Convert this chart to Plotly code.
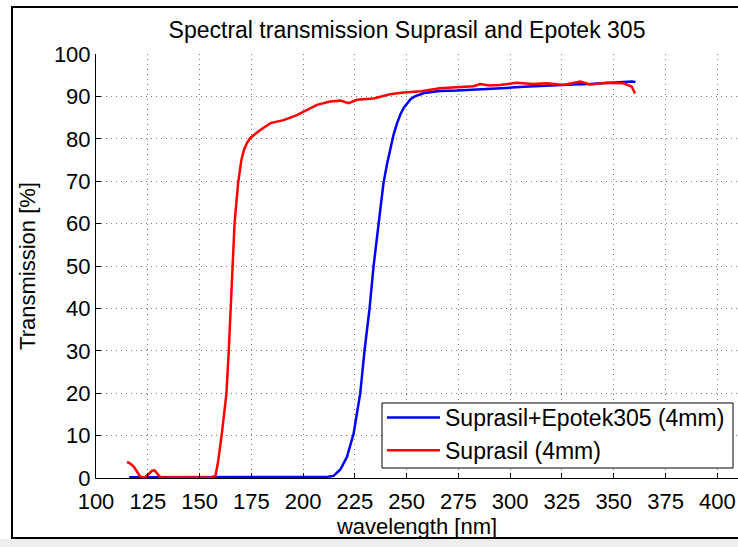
import plotly.graph_objects as go

# Suprasil + Epotek 305 (4 mm): wavelength [nm] and transmission [%]
epotek_nm = [116, 130, 150, 170, 190, 205, 212, 214.7, 218, 221.2, 224.4, 227.6, 229.7,
             232.1, 234, 236.4, 238.8, 240.5, 242, 243.7, 245.3, 247, 248.7, 250.3,
             252, 254, 256, 258.5, 261.4, 266, 274.3, 282, 290.4, 298, 306.5, 314,
             322.5, 330, 338.6, 346.7, 352, 358.7, 360.5]
epotek_T = [0.2, 0.2, 0.2, 0.2, 0.2, 0.2, 0.3, 0.5, 2.0, 5.0, 10.5, 20.0, 30.2,
            40.0, 49.8, 59.7, 69.5, 74.0, 77.6, 81.0, 83.6, 85.8, 87.4, 88.5,
            89.4, 90.0, 90.4, 90.8, 91.0, 91.3, 91.4, 91.6, 91.7, 92.0, 92.3, 92.5,
            92.7, 92.8, 92.9, 93.2, 93.4, 93.5, 93.4]

# Suprasil (4 mm): wavelength [nm] and transmission [%]
suprasil_nm = [115, 116.5, 118.2, 120, 121.4, 123.8, 125.5, 127.1, 128.3, 129.5, 131,
               135, 145, 155, 157.7, 159, 160.8, 163, 164.1, 165.8, 166.9, 168.6,
               170.2, 171.5, 172.9, 174.5, 178.5, 184.2, 190.6, 197, 200.2, 206.7, 213,
               218, 222, 226, 234, 242, 248.5, 257, 266, 274, 282.3, 285.5, 290,
               295, 303, 311, 317.7, 325.7, 333.8, 338.6, 346.7, 354.7, 358.7, 360.3]
suprasil_T = [3.8, 3.4, 2.7, 1.5, 0.3, 0.2, 1.0, 1.7, 1.8, 1.1, 0.2,
              0.1, 0.1, 0.1, 0.5, 4.0, 10.6, 20.0, 30.0, 50.0, 60.0, 69.5,
              75.0, 77.5, 79.0, 80.2, 81.8, 83.7, 84.4, 85.6, 86.4, 88.0, 88.8,
              89.0, 88.4, 89.2, 89.5, 90.5, 90.9, 91.2, 91.9, 92.1, 92.4, 92.9, 92.6,
              92.7, 93.2, 92.9, 93.1, 92.7, 93.5, 92.8, 93.2, 93.1, 92.3, 90.7]

x_ticks = [100, 125, 150, 175, 200, 225, 250, 275, 300, 325, 350, 375, 400]
y_ticks = [0, 10, 20, 30, 40, 50, 60, 70, 80, 90, 100]

W, H = 738, 547
ML, MT, MB, MR = 96, 54, 69, 0
PW, PH = W - ML - MR, H - MT - MB
FONT = "Liberation Sans, Arial, sans-serif"


def px_x(px):
    return (px - ML) / PW


def px_y(py):
    return (H - MB - py) / PH


fig = go.Figure()
fig.add_trace(go.Scatter(x=epotek_nm, y=epotek_T, mode="lines",
                         name="Suprasil+Epotek305 (4mm)",
                         line=dict(color="#0000ff", width=2.5)))
fig.add_trace(go.Scatter(x=suprasil_nm, y=suprasil_T, mode="lines",
                         name="Suprasil (4mm)",
                         line=dict(color="#ff0000", width=2.5)))

axis_common = dict(
    showline=True, linecolor="black", linewidth=1,
    ticks="inside", ticklen=5, tickcolor="black", tickwidth=1,
    showgrid=True, gridcolor="#777777", griddash="1px,4px", gridwidth=1,
    zeroline=False, tickfont=dict(family=FONT, size=22, color="black"),
)

fig.update_xaxes(range=[100, 410], tickvals=x_ticks, ticklabelstandoff=4,
                 title=dict(text="wavelength [nm]", standoff=4,
                            font=dict(family=FONT, size=22, color="black")),
                 **axis_common)
fig.update_yaxes(range=[0, 100], tickvals=y_ticks,
                 title=dict(text="Transmission [%]", standoff=12,
                            font=dict(family=FONT, size=22, color="black")),
                 **axis_common)

# figure frame and bottom strip
fig.add_shape(type="rect", xref="paper", yref="paper",
              x0=px_x(12), x1=px_x(760), y0=px_y(538), y1=px_y(7),
              line=dict(color="black", width=2), fillcolor="rgba(0,0,0,0)",
              layer="below")
fig.add_shape(type="rect", xref="paper", yref="paper",
              x0=px_x(0), x1=px_x(W), y0=px_y(H), y1=px_y(539),
              line=dict(width=0), fillcolor="#eeeeee", layer="below")

# legend frame (white box behind the legend entries)
fig.add_shape(type="rect", xref="paper", yref="paper",
              x0=px_x(382), x1=px_x(733), y0=px_y(468), y1=px_y(403),
              line=dict(color="black", width=1), fillcolor="white",
              layer="above")

fig.update_layout(
    width=W, height=H,
    margin=dict(l=ML, r=MR, t=MT, b=MB),
    paper_bgcolor="white", plot_bgcolor="white",
    font=dict(family=FONT, color="black"),
    title=dict(text="Spectral transmission Suprasil and Epotek 305",
               x=px_x(407), xref="paper", xanchor="center",
               y=1 - 30 / H, yanchor="middle",
               font=dict(family=FONT, size=23, color="black")),
    legend=dict(x=px_x(382), y=px_y(396), xanchor="left", yanchor="top",
                bgcolor="rgba(0,0,0,0)", borderwidth=0,
                font=dict(family=FONT, size=23, color="black"),
                itemwidth=53, tracegroupgap=0),
    showlegend=True,
)

fig.write_html("out.html")
